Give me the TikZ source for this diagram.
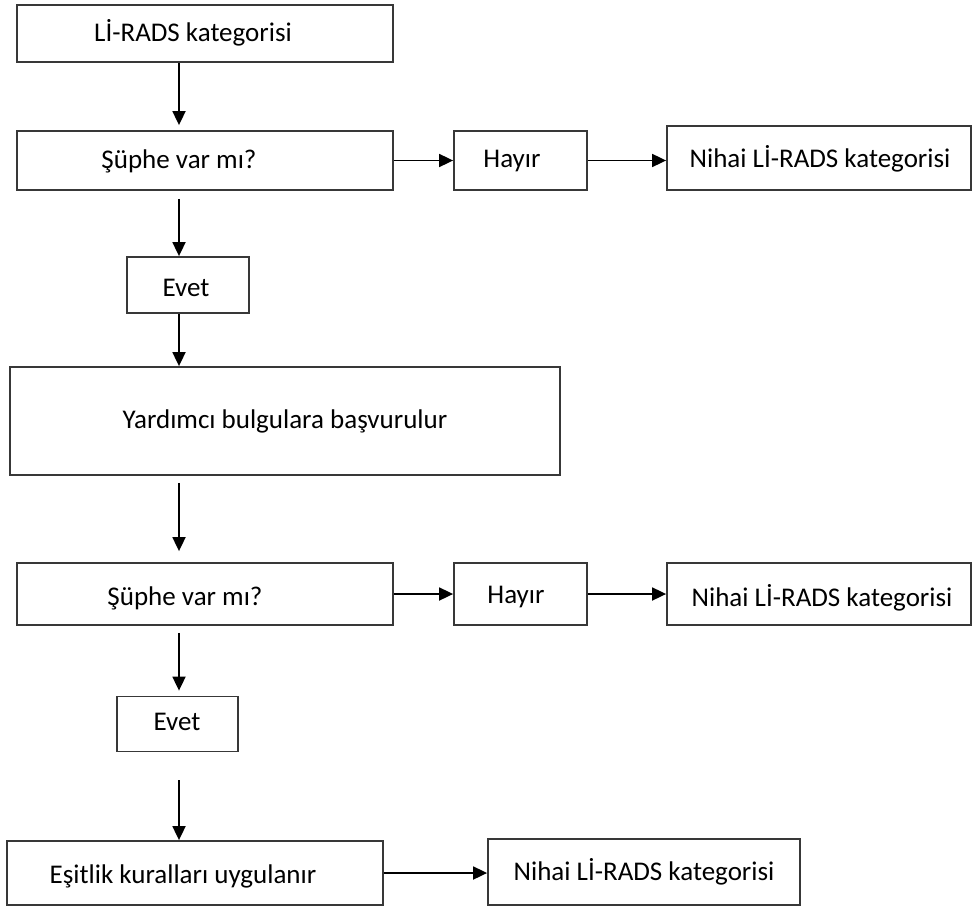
\documentclass[tikz,border=0pt]{standalone}
\usepackage{fontspec}
\setmainfont{Carlito}
\usetikzlibrary{arrows.meta,calc}
\begin{document}
\begin{tikzpicture}[x=1pt,y=-1pt,
  box/.style={draw=black!78,line width=1.8pt,rectangle,inner sep=0pt},
  txt/.style={inner sep=0pt,font=\fontsize{27}{32}\selectfont},
  arr/.style={draw=black,line width=1.8pt,-{Triangle[length=14pt,width=13pt]}}]
\useasboundingbox (0,0) rectangle (973,909);
\fill[white] (0,0) rectangle (973,909);
\coordinate (spine) at (179,0);
% boxes: centre and size
\node[box,minimum width=376pt,minimum height=57pt] (a)  at (205,33.5) {};
\node[txt] (ta) at (193,33) {Lİ-RADS kategorisi};
\node[box,minimum width=376pt,minimum height=59pt] (b)  at (205,160.5) {};
\node[txt] (tb) at (179,161) {Şüphe var mı?};
\node[box,minimum width=133pt,minimum height=59pt] (h1) at (520.5,160.5) {};
\node[txt] (th1) at (512,161) {Hayır};
\node[box,minimum width=304pt,minimum height=64pt] (n1) at (819,158) {};
\node[txt] (tn1) at (820,159) {Nihai Lİ-RADS kategorisi};
\node[box,minimum width=122pt,minimum height=56pt] (e1) at (188,285) {};
\node[txt] (te1) at (186,288) {Evet};
\node[box,minimum width=550pt,minimum height=108pt] (y)  at (285,421) {};
\node[txt] (ty) at (285,421) {Yardımcı bulgulara başvurulur};
\node[box,minimum width=376pt,minimum height=62pt] (b2) at (205,594) {};
\node[txt] (tb2) at (185,598) {Şüphe var mı?};
\node[box,minimum width=133pt,minimum height=62pt] (h2) at (520.5,594) {};
\node[txt] (th2) at (516,597) {Hayır};
\node[box,minimum width=304pt,minimum height=62pt] (n2) at (819,594) {};
\node[txt] (tn2) at (822,598) {Nihai Lİ-RADS kategorisi};
\node[box,minimum width=121pt,minimum height=55pt] (e2) at (177.5,724) {};
\node[txt] (te2) at (177,722) {Evet};
\node[box,minimum width=376pt,minimum height=64pt] (q)  at (195,873) {};
\node[txt] (tq) at (183,876) {Eşitlik kuralları uygulanır};
\node[box,minimum width=312pt,minimum height=66pt] (n3) at (644,872) {};
\node[txt] (tn3) at (644,872) {Nihai Lİ-RADS kategorisi};
% vertical connectors along the spine
\draw[arr,shorten >=5pt] (a.south -| spine) -- (b.north -| spine);
\draw[arr,shorten <=8pt] (b.south -| spine) -- (e1.north -| spine);
\draw[arr] (e1.south -| spine) -- (y.north -| spine);
\draw[arr,shorten <=7pt,shorten >=11pt] (y.south -| spine) -- (b2.north -| spine);
\draw[arr,shorten <=7pt,shorten >=5pt] (b2.south -| spine) -- (e2.north -| spine);
\draw[arr,shorten <=28pt] (e2.south -| spine) -- (q.north -| spine);
% horizontal connectors
\draw[arr] (b.east) -- (h1.west);
\draw[arr] (h1.east) -- (n1.west |- h1.east);
\draw[arr] (b2.east) -- (h2.west);
\draw[arr] (h2.east) -- (n2.west);
\draw[arr] (q.east) -- (n3.west |- q.east);
\end{tikzpicture}
\end{document}
